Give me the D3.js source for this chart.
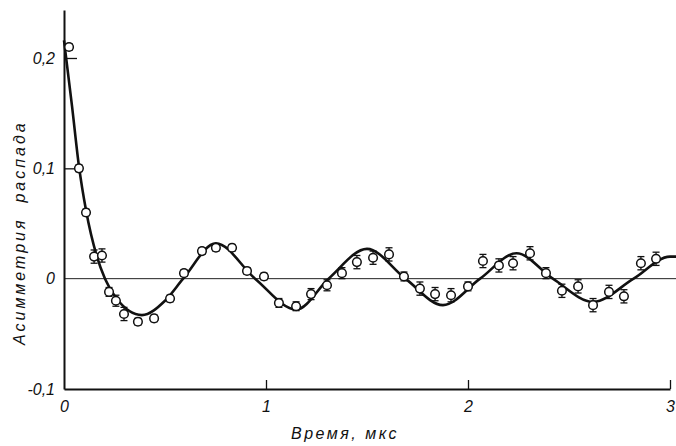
<!DOCTYPE html>
<html>
<head>
<meta charset="utf-8">
<script src="https://cdn.jsdelivr.net/npm/d3@7"></script>
<style>
  body { margin: 0; background: #fff; }
  text { font-family: "Liberation Sans", Arial, sans-serif; font-style: italic; fill: #111; }
</style>
</head>
<body>
<svg id="chart" width="676" height="446"></svg>
<script>
// measured points (time, us / asymmetry)
let pointT = [0.025, 0.074, 0.109, 0.149, 0.188, 0.223, 0.257, 0.297, 0.366, 0.446,
              0.525, 0.594, 0.683, 0.752, 0.832, 0.906, 0.990, 1.064, 1.149, 1.223,
              1.302, 1.376, 1.450, 1.530, 1.609, 1.683, 1.762, 1.837, 1.916, 2.000,
              2.074, 2.153, 2.223, 2.307, 2.386, 2.465, 2.545, 2.619, 2.698, 2.772,
              2.856, 2.931]
let pointA = [0.210, 0.100, 0.060, 0.020, 0.021, -0.012, -0.020, -0.032, -0.039, -0.036,
              -0.018, 0.005, 0.025, 0.028, 0.028, 0.007, 0.002, -0.022, -0.025, -0.014,
              -0.006, 0.005, 0.015, 0.019, 0.022, 0.002, -0.009, -0.014, -0.015, -0.007,
              0.016, 0.012, 0.014, 0.023, 0.005, -0.011, -0.007, -0.024, -0.012, -0.016,
              0.014, 0.018]
let pointErr = [0.003, 0.003, 0.003, 0.006, 0.006, 0.004, 0.005, 0.006, 0.003, 0.003,
                0.003, 0.003, 0.003, 0.003, 0.003, 0.003, 0.003, 0.004, 0.004, 0.005,
                0.005, 0.005, 0.006, 0.006, 0.006, 0.004, 0.006, 0.006, 0.006, 0.004,
                0.006, 0.006, 0.006, 0.006, 0.005, 0.006, 0.006, 0.006, 0.006, 0.006,
                0.006, 0.006]

// fitted curve
let curveT = [0, 0.04, 0.074, 0.109, 0.163, 0.203, 0.26, 0.386, 0.50, 0.59,
              0.752, 0.946, 1.15, 1.31, 1.50, 1.69, 1.876, 2.06, 2.24, 2.42,
              2.62, 2.82, 3.0, 3.03]
let curveA = [0.216, 0.156, 0.102, 0.062, 0.020, 0, -0.018, -0.033, -0.02, 0,
              0.032, 0, -0.028, 0, 0.027, 0, -0.024, 0, 0.023, 0,
              -0.021, 0, 0.02, 0.02]

let yTicks = [-0.1, 0, 0.1, 0.2]
let yTickLabels = ["-0,1", "0", "0,1", "0,2"]
let xTicks = [0, 1, 2, 3]
let xTickLabels = ["0", "1", "2", "3"]

let svg = d3.select("#chart")
let x = d3.scaleLinear([0, 3], [64, 670])
let y = d3.scaleLinear([-0.1, 0.2435], [389, 10])

// zero line
svg.append("line")
    .attr("x1", x(0)).attr("x2", 676)
    .attr("y1", y(0)).attr("y2", y(0))
    .attr("stroke", "#222").attr("stroke-width", 1)

let axisY = svg.append("g")
    .attr("transform", `translate(${x(0)},0)`)
    .call(d3.axisLeft(y).tickValues(yTicks)
        .tickFormat((d, i) => yTickLabels[i])
        .tickSizeInner(-13).tickSizeOuter(0).tickPadding(9))
let axisX = svg.append("g")
    .attr("transform", `translate(0,${y(-0.1)})`)
    .call(d3.axisBottom(x).tickValues(xTicks)
        .tickFormat((d, i) => xTickLabels[i])
        .tickSizeInner(-9).tickSizeOuter(0).tickPadding(12))

for (let g of [axisY, axisX]) {
    g.attr("font-family", null).attr("font-size", null)
    g.select(".domain").attr("stroke", "#111").attr("stroke-width", 2)
    g.selectAll(".tick line").attr("stroke", "#111").attr("stroke-width", 1.3)
    g.selectAll(".tick text").attr("font-size", 16).attr("fill", "#111")
}
axisY.selectAll(".tick").filter(d => d === 0 || d === -0.1).select("line").remove()
axisX.selectAll(".tick").filter(d => d === 0).select("line").remove()

// fitted curve
let line = d3.line()
    .x((d, i) => x(curveT[i]))
    .y((d, i) => y(curveA[i]))
    .curve(d3.curveMonotoneX)
svg.append("path")
    .attr("d", line(curveT))
    .attr("fill", "none")
    .attr("stroke", "#111")
    .attr("stroke-width", 2.6)

// error bars
let pts = pointT.map((t, i) => ({t, a: pointA[i], e: pointErr[i]}))
let bars = svg.append("g").attr("stroke", "#111").attr("stroke-width", 1.3)
bars.selectAll("line.v").data(pts).join("line")
    .attr("class", "v")
    .attr("x1", d => x(d.t)).attr("x2", d => x(d.t))
    .attr("y1", d => y(d.a - d.e)).attr("y2", d => y(d.a + d.e))
bars.selectAll("line.cap").data(pts.flatMap(d => [d.a - d.e, d.a + d.e].map(v => ({t: d.t, v}))))
    .join("line")
    .attr("class", "cap")
    .attr("x1", d => x(d.t) - 3.5).attr("x2", d => x(d.t) + 3.5)
    .attr("y1", d => y(d.v)).attr("y2", d => y(d.v))

svg.append("g").selectAll("circle").data(pts).join("circle")
    .attr("cx", d => x(d.t))
    .attr("cy", d => y(d.a))
    .attr("r", 4.3)
    .attr("fill", "#fff")
    .attr("stroke", "#111")
    .attr("stroke-width", 1.5)

// axis titles
svg.append("text")
    .attr("transform", "translate(25,345) rotate(-90)")
    .attr("font-size", 16)
    .attr("letter-spacing", 3)
    .attr("xml:space", "preserve")
    .text("Асимметрия  распада")
svg.append("text")
    .attr("x", 345).attr("y", 439)
    .attr("text-anchor", "middle")
    .attr("font-size", 16)
    .attr("letter-spacing", 2.5)
    .text("Время, мкс")
</script>
</body>
</html>
